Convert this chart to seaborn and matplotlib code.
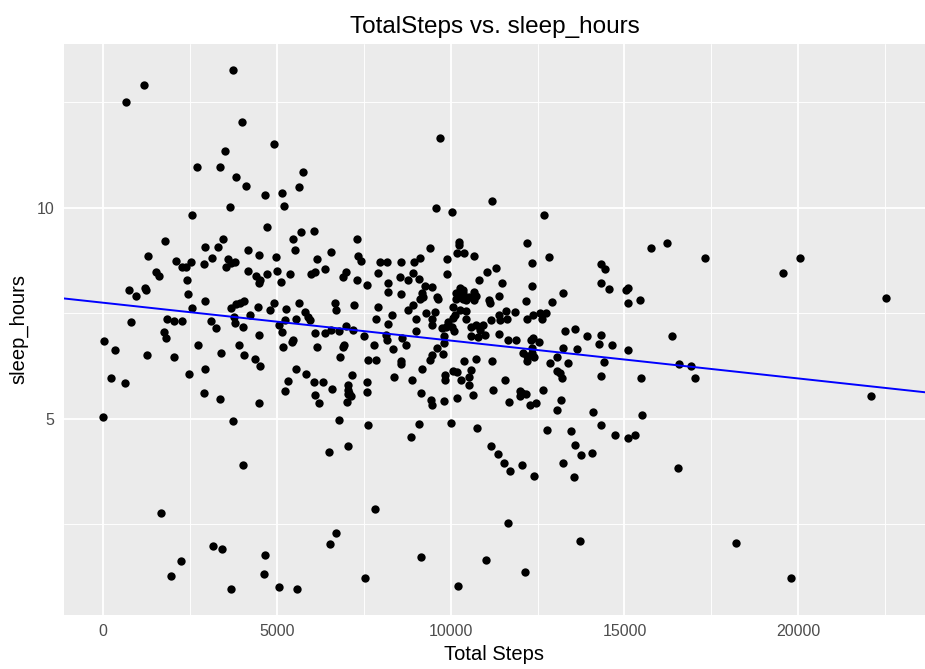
import matplotlib
matplotlib.use("Agg")
import matplotlib.pyplot as plt
import seaborn as sns
import pandas as pd
from matplotlib.ticker import FixedLocator

title = "TotalSteps vs. sleep_hours"
x_label = "Total Steps"
y_label = "sleep_hours"
x_ticks = [0, 5000, 10000, 15000, 20000]
x_minor = [2500, 7500, 12500, 17500, 22500]
y_ticks = [5, 10]
y_minor = [2.5, 7.5, 12.5]

total_steps = [
    3736, 1188, 661, 3995, 4924, 3497, 2692, 3353, 5758, 3832, 4100, 5633, 4646, 5154, 3650, 5192, 2558, 4713, 5690, 6064,
    9694, 9588, 10048, 11198, 12683,
    5461, 5509, 1782, 3458, 3315, 2922, 1303, 2108, 2261, 2395, 2539, 2893, 3133, 3593, 3670, 3803, 3545, 4167, 4483, 4972,
    5011, 4177, 4407, 4723, 4503, 4474, 5125, 5384, 5988, 6103, 6150, 6371, 6553, 6974, 6898, 1533, 1600, 2404, 747, 958,
    1198, 1245, 2452, 2922, 2548, 3688, 3813, 3947, 4062, 4234, 4455, 4809, 4905, 5259, 5633, 5796, 5882, 5959, 5538, 5231,
    6677, 6687, 6994, 814, 1839, 2050, 2270, 3113, 3257, 3755, 3803, 4024, 5058, 5135, 6093, 6371, 6544, 6783, 1744, 1820,
    29, 345, 1265, 2050, 2740, 3382, 3899, 4052, 4359, 4483, 4503, 5173, 5422, 5451, 6141, 6821, 6898, 6936, 2462, 2941,
    5547, 5844, 5317, 6055, 6313, 6572, 230, 642, 2903, 3372, 5231, 6083, 6198, 4483, 7012, 7070, 0, 3736, 6782,
    7318, 7337, 7414, 7318, 7596, 7222, 7193, 7500, 7979, 8180, 8563, 8947, 9119, 9406, 9885, 10230, 10230, 10192, 10374, 10671,
    7922, 8199, 8199, 8544, 8773, 8918, 9090, 9253, 9473, 9177, 8582, 9608, 9636, 9885, 9215, 9109, 7912, 8324, 7864, 8209,
    8773, 8918, 9013, 8994, 9282, 9464, 9560, 9473, 9751, 9866, 10077, 10115, 10039, 10087, 9924, 10441, 10154, 10259, 10355, 10364,
    10451, 10144, 10364, 10259, 10518, 10671, 10719, 10671, 10077, 10268, 10441, 10805, 11035, 11303, 11485, 11093, 11141, 11390, 11169, 11390,
    11408, 11581, 11619, 11840, 11390, 11648, 11887, 10575, 10575, 10738, 10843, 10920, 10786, 10977, 9809, 9799, 9608, 9770, 9473, 9407,
    9167, 8899, 8372, 8563, 8582, 8142, 8180, 8602, 8707, 7797, 8343, 7625, 7864, 7165, 7040, 7040, 7040, 7117, 7605, 7605,
    9157, 9445, 9464, 9809, 9828, 9828, 10077, 10192, 10288, 10384, 10527, 10527, 10594, 10719, 10642, 10182, 11179, 11226, 11571, 11667,
    11983, 11983, 12050, 12175, 12079, 12203, 12203, 12347, 12395, 12347, 12318, 12529, 12376, 12203, 12366, 12568, 12625, 12749, 12165, 12203,
    12347, 12337, 12817, 12912, 13229, 12290, 12462, 12654, 13162, 13066, 13056, 13133, 13200, 13066, 12846, 13363, 13229, 13296, 13564, 13918,
    13631, 14321, 14264, 14647, 14417, 14330, 14101, 14330, 14426, 14321, 14541, 15050, 15088, 15088, 15098,
    15766, 16216, 17308, 15450, 16360, 16561, 16906, 17031, 15488, 15517, 19550, 20039, 22520, 22100,
    6495, 7051, 4033, 1657, 6696, 6524, 3152, 3410, 4665, 2251, 4618, 1964, 3688, 5058, 5576,
    7625, 9100, 8851, 10020, 10767, 11169, 11370, 11543, 11715, 12050, 12405, 12759, 13449, 13229, 13574, 13746, 14062, 13545, 14331, 14714,
    15097, 15289, 7816, 11638, 13727, 9138, 11006, 12127, 7538, 10211,
    16532, 18209, 19780,
]

sleep_hours = [
    13.27, 12.92, 12.50, 12.03, 11.52, 11.34, 10.96, 10.96, 10.84, 10.72, 10.51, 10.49, 10.31, 10.36, 10.02, 10.04, 9.82, 9.54, 9.42, 9.46,
    11.66, 9.99, 9.89, 10.17, 9.84,
    9.26, 9.01, 9.21, 9.25, 9.08, 9.08, 8.86, 8.75, 8.59, 8.60, 8.72, 8.67, 8.80, 8.78, 8.70, 8.71, 8.60, 9.01, 8.88, 8.84,
    8.51, 8.51, 8.38, 8.43, 8.29, 8.21, 8.23, 8.43, 8.42, 8.47, 8.78, 8.54, 8.96, 8.49, 8.37, 8.47, 8.38, 8.30, 8.05, 7.92,
    8.10, 8.05, 7.96, 7.80, 7.63, 7.63, 7.72, 7.75, 7.79, 7.46, 7.66, 7.58, 7.74, 7.61, 7.75, 7.53, 7.41, 7.33, 7.37, 7.34,
    7.75, 7.58, 7.20, 7.29, 7.37, 7.32, 7.32, 7.31, 7.15, 7.41, 7.26, 7.18, 7.21, 7.06, 7.03, 7.03, 7.11, 7.07, 7.06, 6.92,
    6.85, 6.64, 6.52, 6.47, 6.74, 6.55, 6.75, 6.51, 6.42, 6.99, 6.24, 6.70, 6.81, 6.86, 6.70, 6.47, 6.70, 6.75, 6.06, 6.18,
    6.18, 6.06, 5.90, 5.86, 5.88, 5.71, 5.96, 5.84, 5.62, 5.47, 5.65, 5.55, 5.37, 5.38, 5.39, 5.62, 5.04, 4.95, 4.98,
    9.25, 8.86, 8.75, 8.29, 8.17, 7.70, 7.11, 6.95, 8.71, 8.72, 8.71, 8.71, 8.82, 9.04, 8.79, 9.20, 9.12, 8.92, 8.92, 8.86,
    8.45, 8.21, 8.01, 8.35, 8.30, 8.45, 8.32, 8.15, 8.13, 7.97, 7.96, 7.89, 7.85, 8.42, 7.89, 7.85, 7.66, 7.46, 7.36, 7.25,
    7.58, 7.70, 7.37, 7.08, 7.50, 7.37, 7.52, 7.22, 7.15, 7.18, 7.38, 7.46, 7.18, 7.07, 7.30, 7.36, 7.97, 8.09, 7.97, 7.83,
    7.82, 7.83, 8.05, 7.89, 7.89, 8.01, 7.91, 7.82, 7.66, 7.58, 7.56, 8.29, 8.47, 8.57, 8.21, 7.82, 7.75, 7.92, 7.33, 7.46,
    7.34, 7.56, 7.36, 7.54, 7.01, 6.87, 6.87, 7.18, 6.95, 7.22, 7.11, 7.22, 6.93, 6.99, 6.95, 6.79, 6.67, 6.54, 6.51, 6.40,
    6.18, 5.92, 6.00, 6.37, 6.30, 6.99, 6.87, 6.91, 6.75, 6.75, 6.65, 6.40, 6.40, 6.03, 5.80, 5.69, 5.59, 5.53, 5.88, 5.63,
    5.62, 5.45, 5.33, 5.41, 6.03, 5.92, 6.14, 6.10, 5.91, 6.37, 6.00, 5.80, 6.16, 6.41, 5.55, 5.49, 6.37, 5.69, 5.91, 5.39,
    5.65, 5.53, 5.61, 5.59, 6.55, 6.49, 6.37, 6.55, 6.47, 6.67, 6.87, 6.81, 6.91, 7.36, 7.45, 7.50, 7.36, 7.50, 7.80, 9.16,
    8.70, 8.15, 8.84, 7.77, 7.97, 5.32, 5.37, 5.67, 5.45, 5.21, 6.12, 6.08, 5.96, 6.46, 6.33, 6.32, 6.67, 7.07, 7.12, 6.96,
    6.65, 6.98, 6.77, 6.74, 6.34, 6.02, 5.17, 8.68, 8.56, 8.21, 8.08, 8.05, 8.11, 7.75, 6.62,
    9.05, 9.17, 8.82, 7.82, 6.96, 6.29, 6.25, 5.96, 5.96, 5.08, 8.46, 8.80, 7.86, 5.53,
    4.21, 4.35, 3.91, 2.76, 2.28, 2.04, 1.98, 1.91, 1.77, 1.62, 1.32, 1.28, 0.97, 1.02, 0.96,
    4.85, 4.87, 4.57, 4.90, 4.77, 4.36, 4.16, 3.95, 3.76, 3.91, 3.64, 4.74, 4.71, 3.94, 4.38, 4.15, 4.18, 3.61, 4.86, 4.62,
    4.55, 4.62, 2.85, 2.53, 2.10, 1.71, 1.65, 1.36, 1.23, 1.03,
    3.83, 2.06, 1.23,
]

df = pd.DataFrame({"TotalSteps": total_steps, "sleep_hours": sleep_hours})

sns.set_theme(style="darkgrid")
plt.rcParams["font.family"] = ["Liberation Sans", "DejaVu Sans"]

fig = plt.figure(figsize=(9.25, 6.69), dpi=100)
fig.patch.set_facecolor("white")
ax = fig.add_axes([64 / 925, 1 - 615 / 669, (925 - 64) / 925, (615 - 44) / 669])
ax.set_facecolor("#EBEBEB")

sns.scatterplot(data=df, x="TotalSteps", y="sleep_hours", color="black",
                s=36, linewidth=0, ax=ax, zorder=3)

xr = max(total_steps) - min(total_steps)
yr = max(sleep_hours) - min(sleep_hours)
ax.set_xlim(min(total_steps) - 0.05 * xr, max(total_steps) + 0.05 * xr)
ax.set_ylim(min(sleep_hours) - 0.05 * yr, max(sleep_hours) + 0.05 * yr)

sns.regplot(data=df, x="TotalSteps", y="sleep_hours", scatter=False, ci=None,
            truncate=False, color="blue", line_kws={"linewidth": 1.4, "zorder": 4}, ax=ax)

ax.xaxis.set_major_locator(FixedLocator(x_ticks))
ax.xaxis.set_minor_locator(FixedLocator(x_minor))
ax.yaxis.set_major_locator(FixedLocator(y_ticks))
ax.yaxis.set_minor_locator(FixedLocator(y_minor))
ax.set_xticklabels([str(t) for t in x_ticks])
ax.set_yticklabels([str(t) for t in y_ticks])

ax.grid(which="major", color="white", linewidth=1.3)
ax.grid(which="minor", color="white", linewidth=0.65)
ax.set_axisbelow(True)
for s in ax.spines.values():
    s.set_visible(False)

ax.tick_params(which="major", length=3.8, width=1.0, color="#333333",
               labelcolor="#4D4D4D", labelsize=11.5, pad=3)
ax.tick_params(which="minor", length=0)

ax.set_xlabel(x_label, fontsize=14.5, color="black", labelpad=4)
ax.set_ylabel(y_label, fontsize=14.5, color="black", labelpad=6)
ax.set_title(title, fontsize=17.5, color="black", pad=8)

fig.savefig("out.png", dpi=100, facecolor="white")
